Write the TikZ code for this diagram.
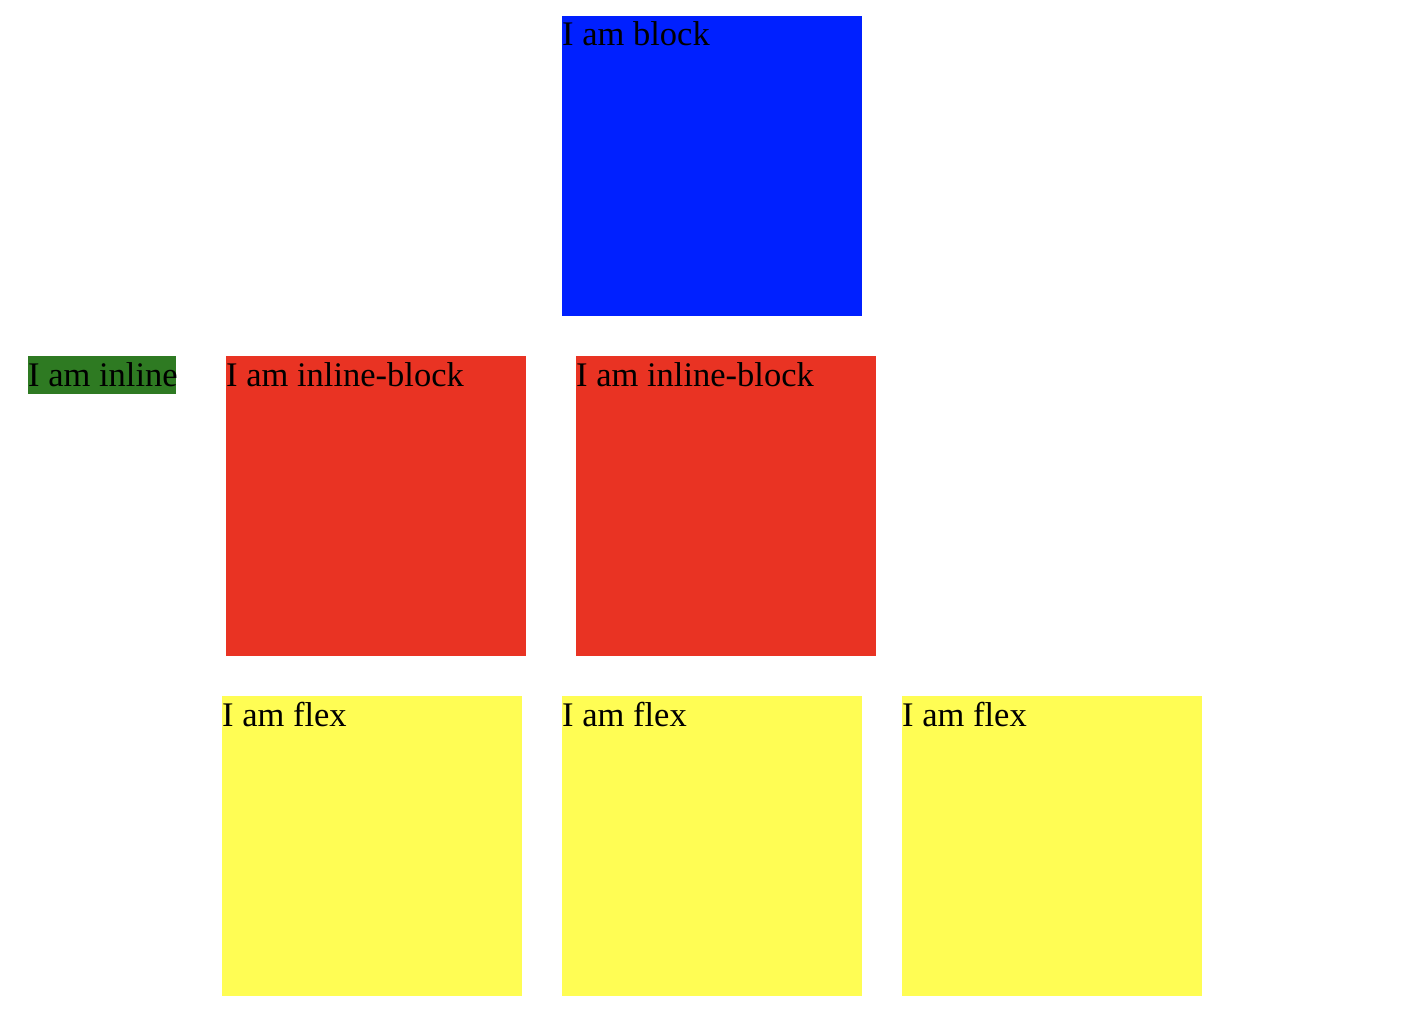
\documentclass[tikz,border=0pt]{standalone}
\usepackage{fontspec}
\setmainfont{Liberation Serif}
\definecolor{blk}{HTML}{0020FF}
\definecolor{inl}{HTML}{2E7A22}
\definecolor{ib}{HTML}{E93323}
\definecolor{flx}{HTML}{FFFD54}
\tikzset{
  lbl/.style={anchor=base west, inner sep=0pt, font=\fontsize{34.5}{40}\selectfont, text=black}
}
\begin{document}
\begin{tikzpicture}[x=1pt,y=-1pt]
\useasboundingbox (0,0) rectangle (1422,1016);
% block
\fill[blk] (562,16) rectangle (862,316);
\node[lbl] (tblock) at (562,46) {I am block};
% inline
\fill[inl] (28,356) rectangle (176,394);
\node[lbl] (tinline) at (28,386) {I am inline};
% inline-block
\fill[ib] (226,356) rectangle (526,656);
\node[lbl] (tib1) at (226,386) {I am inline-block};
\fill[ib] (576,356) rectangle (876,656);
\node[lbl] (tib2) at (576,386) {I am inline-block};
% flex
\fill[flx] (222,696) rectangle (522,996);
\node[lbl] (tf1) at (222,726) {I am flex};
\fill[flx] (562,696) rectangle (862,996);
\node[lbl] (tf2) at (562,726) {I am flex};
\fill[flx] (902,696) rectangle (1202,996);
\node[lbl] (tf3) at (902,726) {I am flex};
\end{tikzpicture}
\end{document}
